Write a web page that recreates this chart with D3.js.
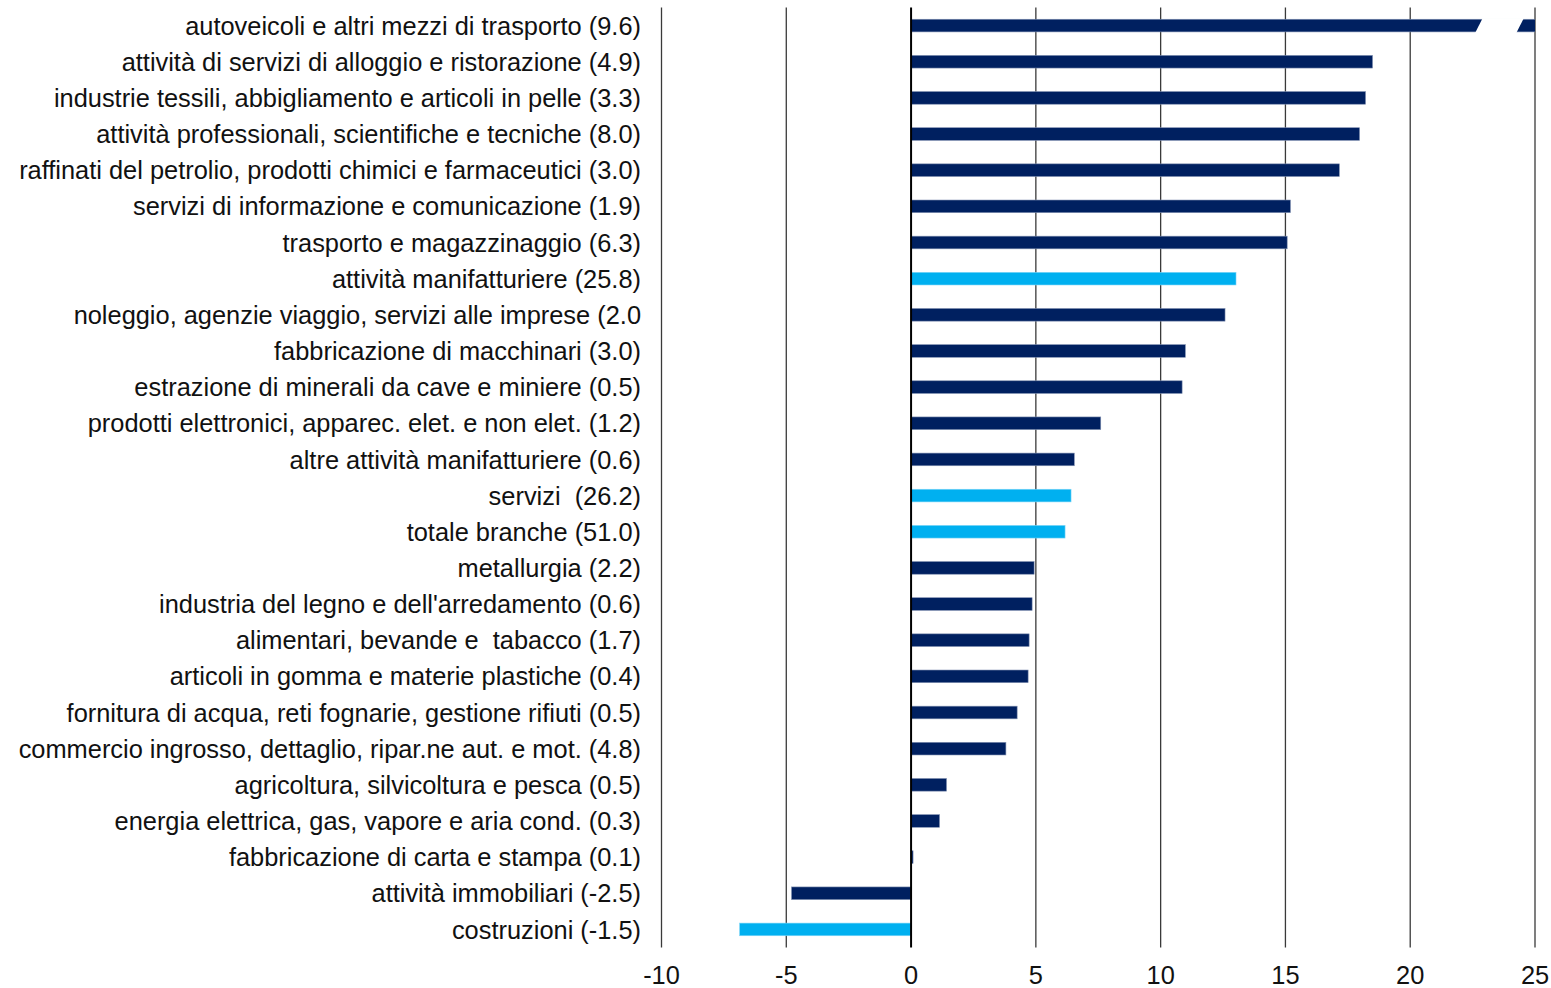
<!DOCTYPE html>
<html>
<head>
<meta charset="utf-8">
<script src="https://cdn.jsdelivr.net/npm/d3@7"></script>
<style>
  html, body { margin: 0; padding: 0; background: #fff; }
  svg { display: block; }
  text { font-family: "Liberation Sans", Arial, sans-serif; fill: #111; }
</style>
</head>
<body>
<svg id="chart" width="1551" height="988"></svg>
<script>
// Sector labels (weight in parentheses), top to bottom
const categories = [
  "autoveicoli e altri mezzi di trasporto (9.6)",
  "attività di servizi di alloggio e ristorazione (4.9)",
  "industrie tessili, abbigliamento e articoli in pelle (3.3)",
  "attività professionali, scientifiche e tecniche (8.0)",
  "raffinati del petrolio, prodotti chimici e farmaceutici (3.0)",
  "servizi di informazione e comunicazione (1.9)",
  "trasporto e magazzinaggio (6.3)",
  "attività manifatturiere (25.8)",
  "noleggio, agenzie viaggio, servizi alle imprese (2.0",
  "fabbricazione di macchinari (3.0)",
  "estrazione di minerali da cave e miniere (0.5)",
  "prodotti elettronici, apparec. elet. e non elet. (1.2)",
  "altre attività manifatturiere (0.6)",
  "servizi  (26.2)",
  "totale branche (51.0)",
  "metallurgia (2.2)",
  "industria del legno e dell'arredamento (0.6)",
  "alimentari, bevande e  tabacco (1.7)",
  "articoli in gomma e materie plastiche (0.4)",
  "fornitura di acqua, reti fognarie, gestione rifiuti (0.5)",
  "commercio ingrosso, dettaglio, ripar.ne aut. e mot. (4.8)",
  "agricoltura, silvicoltura e pesca (0.5)",
  "energia elettrica, gas, vapore e aria cond. (0.3)",
  "fabbricazione di carta e stampa (0.1)",
  "attività immobiliari (-2.5)",
  "costruzioni (-1.5)"
];

// Percentage change per sector; the first bar runs off the axis
const values = [
  30.0, 18.49, 18.21, 17.97, 17.16, 15.20, 15.07, 13.02, 12.58, 10.99,
  10.86, 7.60, 6.54, 6.41, 6.17, 4.93, 4.85, 4.73, 4.69, 4.25,
  3.80, 1.42, 1.14, 0.08, -4.79, -6.87
];

// Aggregate rows drawn in the lighter colour
const aggregates = ["attività manifatturiere (25.8)", "servizi  (26.2)", "totale branche (51.0)", "costruzioni (-1.5)"];

const xTicks = [-10, -5, 0, 5, 10, 15, 20, 25];
const xDomain = [-10, 25];
// Axis break drawn on the overflowing bar: [top edge start, top edge end] and slant, in axis units
const breakGap = [22.9, 24.55];
const breakSlant = 0.3;

const svg = d3.select("#chart");
const plotTop = 7.5, plotBottom = 947.5;

const x = d3.scaleLinear().domain(xDomain).range([661.5, 1535]);
const y = d3.scaleBand().domain(categories).range([plotTop, plotBottom])
  .paddingInner(0.65).paddingOuter(0.325);

const dark = "#002060", light = "#00B0F0";

// vertical gridlines
svg.append("g").selectAll("line").data(xTicks.filter(t => t !== 0)).join("line")
  .attr("x1", d => x(d)).attr("x2", d => x(d))
  .attr("y1", plotTop).attr("y2", plotBottom)
  .attr("stroke", "#3a3a3a").attr("stroke-width", 1.3);

// bars, clipped at the end of the axis
svg.append("clipPath").attr("id", "plotClip").append("rect")
  .attr("x", x(xDomain[0])).attr("y", 0)
  .attr("width", x(xDomain[1]) - x(xDomain[0])).attr("height", 988);

const rows = categories.map((c, i) => ({ c, v: values[i] }));
svg.append("g").attr("clip-path", "url(#plotClip)")
  .selectAll("rect").data(rows).join("rect")
  .attr("x", d => x(Math.min(0, d.v)))
  .attr("width", d => Math.abs(x(d.v) - x(0)))
  .attr("y", d => y(d.c))
  .attr("height", y.bandwidth())
  .attr("fill", d => aggregates.includes(d.c) ? light : dark)
  .attr("stroke", d => aggregates.includes(d.c) ? "#7fd6f7" : "#7f8fb0")
  .attr("stroke-width", 0.6);

// slanted break on the overflowing bar
const over = rows.filter(d => d.v > xDomain[1]);
svg.append("g").selectAll("path").data(over).join("path")
  .attr("d", d => {
    const t = y(d.c) - 1, b = y(d.c) + y.bandwidth() + 1;
    return `M${x(breakGap[0])},${t} L${x(breakGap[1])},${t} L${x(breakGap[1] - breakSlant)},${b} L${x(breakGap[0] - breakSlant)},${b} Z`;
  })
  .attr("fill", "#fff");

// zero line
svg.append("line")
  .attr("x1", x(0)).attr("x2", x(0)).attr("y1", plotTop).attr("y2", plotBottom)
  .attr("stroke", "#000").attr("stroke-width", 2);

// category labels
svg.append("g").selectAll("text").data(categories).join("text")
  .attr("x", 641)
  .attr("y", d => y(d) + y.bandwidth() / 2)
  .attr("dy", "0.36em")
  .attr("text-anchor", "end")
  .attr("font-size", 25.4)
  .style("white-space", "pre")
  .attr("xml:space", "preserve")
  .text(d => d);

// x tick labels
svg.append("g").selectAll("text").data(xTicks).join("text")
  .attr("x", d => x(d))
  .attr("y", 975)
  .attr("dy", "0.36em")
  .attr("text-anchor", "middle")
  .attr("font-size", 25.4)
  .text(d => d);
</script>
</body>
</html>
